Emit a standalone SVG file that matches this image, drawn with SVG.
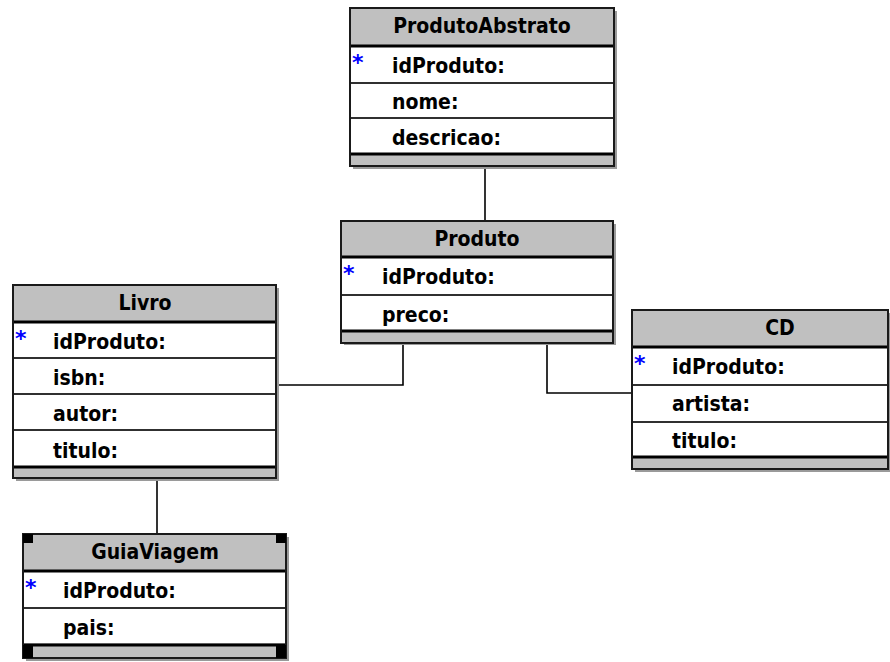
<svg xmlns="http://www.w3.org/2000/svg" width="890" height="662" viewBox="0 0 890 662">
<style>
.bg{fill:#ffffff}
.shadow{fill:#9a9a9a}
.hdr{fill:#c0c0c0}
.row{fill:#ffffff}
.border{fill:none;stroke:#1a1a1a;stroke-width:2}
.sep{stroke:#303030;stroke-width:2}
.thick{stroke:#000000;stroke-width:3}
.title{font-family:"DejaVu Sans Condensed","DejaVu Sans",sans-serif;font-weight:bold;font-size:21px;fill:#000;text-anchor:middle}
.attr{font-family:"DejaVu Sans Condensed","DejaVu Sans",sans-serif;font-weight:bold;font-size:21px;fill:#000}
.pk{font-family:"DejaVu Sans",sans-serif;font-weight:bold;font-size:22px;fill:#0000ff}
.conn{fill:none;stroke:#000;stroke-width:1.6}
.corner{fill:#000}
</style>
<rect class="bg" x="0" y="0" width="890" height="662"/>

<g id="connectors">
  <path class="conn" d="M485,167 V221"/>
  <path class="conn" d="M403,345 V385 H278"/>
  <path class="conn" d="M547,345 V393 H632"/>
  <path class="conn" d="M157,479 V534"/>
</g>

<g id="ProdutoAbstrato">
  <rect class="shadow" x="353" y="11" width="264" height="158"/>
  <rect class="hdr" x="350" y="8" width="264" height="38"/>
  <rect class="row" x="350" y="46" width="264" height="108"/>
  <rect class="hdr" x="350" y="154" width="264" height="12"/>
  <line class="sep" x1="350" y1="83" x2="614" y2="83"/>
  <line class="sep" x1="350" y1="118" x2="614" y2="118"/>
  <line class="thick" x1="350" y1="46" x2="614" y2="46"/>
  <line class="thick" x1="350" y1="154" x2="614" y2="154"/>
  <rect class="border" x="350" y="8" width="264" height="158"/>
  <text class="title" x="482" y="33">ProdutoAbstrato</text>
  <text class="pk" x="352" y="70">*</text>
  <text class="attr" x="392" y="73">idProduto:</text>
  <text class="attr" x="392" y="109">nome:</text>
  <text class="attr" x="392" y="145">descricao:</text>
</g>

<g id="Produto">
  <rect class="shadow" x="344" y="224" width="272" height="121"/>
  <rect class="hdr" x="341" y="221" width="272" height="36"/>
  <rect class="row" x="341" y="257" width="272" height="74"/>
  <rect class="hdr" x="341" y="331" width="272" height="12"/>
  <line class="sep" x1="341" y1="295" x2="613" y2="295"/>
  <line class="thick" x1="341" y1="257" x2="613" y2="257"/>
  <line class="thick" x1="341" y1="331" x2="613" y2="331"/>
  <rect class="border" x="341" y="221" width="272" height="122"/>
  <text class="title" x="477" y="246">Produto</text>
  <text class="pk" x="343" y="281">*</text>
  <text class="attr" x="382" y="284">idProduto:</text>
  <text class="attr" x="382" y="322">preco:</text>
</g>

<g id="Livro">
  <rect class="shadow" x="16" y="288" width="263" height="193"/>
  <rect class="hdr" x="13" y="285" width="263" height="37"/>
  <rect class="row" x="13" y="322" width="263" height="145"/>
  <rect class="hdr" x="13" y="467" width="263" height="11"/>
  <line class="sep" x1="13" y1="358" x2="276" y2="358"/>
  <line class="sep" x1="13" y1="394" x2="276" y2="394"/>
  <line class="sep" x1="13" y1="430" x2="276" y2="430"/>
  <line class="thick" x1="13" y1="322" x2="276" y2="322"/>
  <line class="thick" x1="13" y1="467" x2="276" y2="467"/>
  <rect class="border" x="13" y="285" width="263" height="193"/>
  <text class="title" x="145" y="310">Livro</text>
  <text class="pk" x="15" y="346">*</text>
  <text class="attr" x="53" y="349">idProduto:</text>
  <text class="attr" x="53" y="385">isbn:</text>
  <text class="attr" x="53" y="421">autor:</text>
  <text class="attr" x="53" y="458">titulo:</text>
</g>

<g id="GuiaViagem">
  <rect class="shadow" x="26" y="537" width="263" height="124"/>
  <rect class="hdr" x="23" y="534" width="263" height="37"/>
  <rect class="row" x="23" y="571" width="263" height="72"/>
  <rect class="hdr" x="23" y="643" width="263" height="15"/>
  <line class="sep" x1="23" y1="608" x2="286" y2="608"/>
  <line class="thick" x1="23" y1="571" x2="286" y2="571"/>
  <line class="thick" x1="23" y1="645" x2="286" y2="645"/>
  <rect class="border" x="23" y="534" width="263" height="124"/>
  <rect class="corner" x="23" y="534" width="10" height="9"/>
  <rect class="corner" x="276" y="534" width="10" height="9"/>
  <rect class="corner" x="23" y="645" width="10" height="13"/>
  <rect class="corner" x="276" y="645" width="10" height="13"/>
  <text class="title" x="155" y="559">GuiaViagem</text>
  <text class="pk" x="25" y="595">*</text>
  <text class="attr" x="63" y="598">idProduto:</text>
  <text class="attr" x="63" y="635">pais:</text>
</g>

<g id="CD">
  <rect class="shadow" x="635" y="313" width="256" height="159"/>
  <rect class="hdr" x="632" y="310" width="256" height="37"/>
  <rect class="row" x="632" y="347" width="256" height="110"/>
  <rect class="hdr" x="632" y="457" width="256" height="12"/>
  <line class="sep" x1="632" y1="385" x2="888" y2="385"/>
  <line class="sep" x1="632" y1="422" x2="888" y2="422"/>
  <line class="thick" x1="632" y1="347" x2="888" y2="347"/>
  <line class="thick" x1="632" y1="457" x2="888" y2="457"/>
  <rect class="border" x="632" y="310" width="256" height="159"/>
  <text class="title" x="780" y="335">CD</text>
  <text class="pk" x="634" y="371">*</text>
  <text class="attr" x="672" y="374">idProduto:</text>
  <text class="attr" x="672" y="411">artista:</text>
  <text class="attr" x="672" y="448">titulo:</text>
</g>
</svg>
